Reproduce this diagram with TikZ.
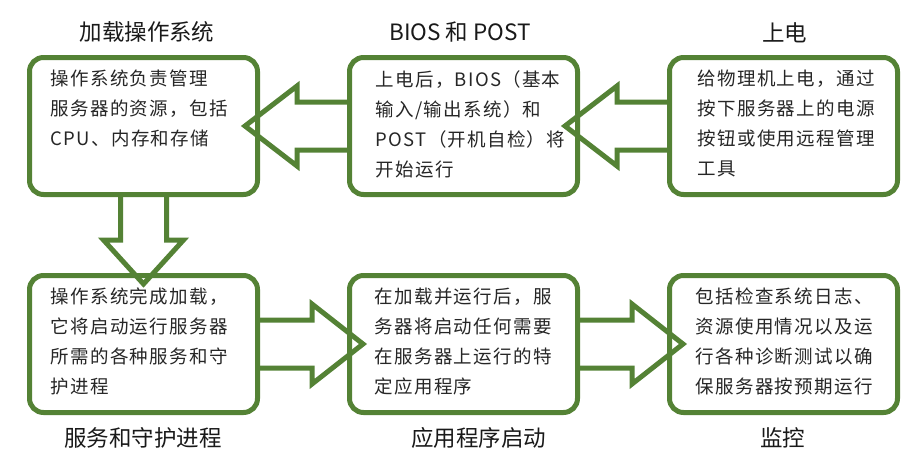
\documentclass[tikz,border=0pt]{standalone}
\usepackage{fontspec}
\usetikzlibrary{calc}
\newfontfamily\cjktitle{Noto Sans CJK SC}
\newfontfamily\cjkbody[LetterSpace=7]{Noto Sans CJK SC}
\definecolor{boxgreen}{RGB}{84,130,53}
\definecolor{bodytext}{RGB}{38,38,38}
\begin{document}
\begin{tikzpicture}[x=1pt,y=-1pt,
  box/.style={draw=boxgreen,line width=5pt,rounded corners=14pt,minimum width=228pt,minimum height=137pt,inner sep=0pt},
  blockarrow/.style={draw=boxgreen,line width=5pt,line join=miter,fill=white},
  title/.style={font=\cjktitle\fontsize{22.5}{26}\selectfont,text=black!90,inner sep=0pt},
  body/.style={font=\cjkbody\fontsize{18.5}{30}\selectfont,text=bodytext,align=left,inner sep=0pt,anchor=north west}]
\useasboundingbox (0,0) rectangle (922,466);
% boxes (positions)
\path (143.5,126) coordinate (c1) (463.5,126) coordinate (c2) (783.5,126) coordinate (c3)
      (143.5,344) coordinate (c4) (463.5,344) coordinate (c5) (783.5,344) coordinate (c6);
\node[box,draw=none] (g1) at (c1) {};
\node[box,draw=none] (g2) at (c2) {};
\node[box,draw=none] (g3) at (c3) {};
\node[box,draw=none] (g4) at (c4) {};
\node[box,draw=none] (g5) at (c5) {};
\node[box,draw=none] (g6) at (c6) {};
% block arrows
\draw[blockarrow] (g2.west) ++(0,-24) -- ++(-50,0) -- ++(0,-16) -- ++(-52,40) -- ++(52,40) -- ++(0,-16) -- ++(50,0);
\draw[blockarrow] (g3.west) ++(0,-24) -- ++(-50,0) -- ++(0,-16) -- ++(-52,40) -- ++(52,40) -- ++(0,-16) -- ++(50,0);
\draw[blockarrow] (g1.south) ++(-23,0) -- ++(0,43) -- ++(-17,0) -- ++(40,44) -- ++(40,-44) -- ++(-17,0) -- ++(0,-43);
\draw[blockarrow] (g4.east) ++(0,-24) -- ++(52,0) -- ++(0,-16) -- ++(51,40) -- ++(-51,40) -- ++(0,-16) -- ++(-52,0);
\draw[blockarrow] (g5.east) ++(0,-24) -- ++(52,0) -- ++(0,-16) -- ++(51,40) -- ++(-51,40) -- ++(0,-16) -- ++(-52,0);
% box outlines on top
\node[box] (b1) at (c1) {};
\node[box] (b2) at (c2) {};
\node[box] (b3) at (c3) {};
\node[box] (b4) at (c4) {};
\node[box] (b5) at (c5) {};
\node[box] (b6) at (c6) {};
% titles
\node[title] (t1) at (147,32) {加载操作系统};
\node[title] (t2) at (460,32.5) {BIOS 和 POST};
\node[title] (t3) at (784.5,32.5) {上电};
\node[title] (t4) at (143,438) {服务和守护进程};
\node[title] (t5) at (478.5,438) {应用程序启动};
\node[title] (t6) at (782.5,438) {监控};
% body texts
\node[body] (x1) at ($(b1.north west)+(23.5,15)$) {操作系统负责管理\\服务器的资源，包括\\CPU、内存和存储};
\node[body] (x2) at ($(b2.north west)+(28.5,15)$) {上电后，BIOS（基本\\输入/输出系统）和\\POST（开机自检）将\\开始运行};
\node[body] (x3) at ($(b3.north west)+(30.5,15)$) {给物理机上电，通过\\按下服务器上的电源\\按钮或使用远程管理\\工具};
\node[body] (x4) at ($(b4.north west)+(23.5,15)$) {操作系统完成加载，\\它将启动运行服务器\\所需的各种服务和守\\护进程};
\node[body] (x5) at ($(b5.north west)+(27.5,15)$) {在加载并运行后，服\\务器将启动任何需要\\在服务器上运行的特\\定应用程序};
\node[body] (x6) at ($(b6.north west)+(28.5,15)$) {包括检查系统日志、\\资源使用情况以及运\\行各种诊断测试以确\\保服务器按预期运行};
\end{tikzpicture}
\end{document}
